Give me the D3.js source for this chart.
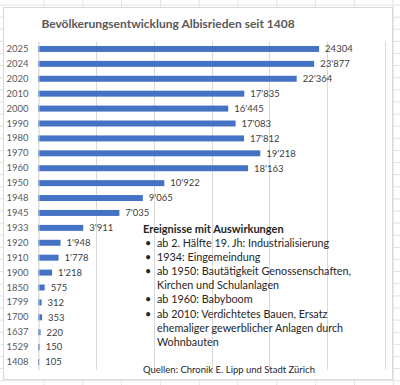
<!DOCTYPE html>
<html>
<head>
<meta charset="utf-8">
<script src="https://cdn.jsdelivr.net/npm/d3@7"></script>
<style>
  body { margin: 0; background: #fff; }
  svg { display: block; font-family: Lato, "Open Sans", sans-serif; }
</style>
</head>
<body>
<div id="chart"></div>
<script>
// data
var years = ["2025", "2024", "2020", "2010", "2000", "1990", "1980", "1970", "1960", "1950", "1948",
             "1945", "1933", "1920", "1910", "1900", "1850", "1799", "1700", "1637", "1529", "1408"];
var population = [24304, 23877, 22364, 17835, 16445, 17083, 17812, 19218, 18163, 10922, 9065,
                  7035, 3911, 1948, 1778, 1218, 575, 312, 353, 220, 150, 105];
var valueLabels = ["24304", "23'877", "22'364", "17'835", "16'445", "17'083", "17'812", "19'218", "18'163", "10'922", "9'065",
                   "7'035", "3'911", "1'948", "1'778", "1'218", "575", "312", "353", "220", "150", "105"];
var gridValues = [5000, 10000, 15000, 20000, 25000, 30000];

var title = "Bevölkerungsentwicklung Albisrieden seit 1408";
var noteTitle = "Ereignisse mit Auswirkungen";
var notes = [
  ["ab 2. Hälfte 19. Jh: Industrialisierung"],
  ["1934: Eingemeindung"],
  ["ab 1950: Bautätigkeit Genossenschaften,", "Kirchen und Schulanlagen"],
  ["ab 1960: Babyboom"],
  ["ab 2010: Verdichtetes Bauen, Ersatz", "ehemaliger gewerblicher Anlagen durch", "Wohnbauten"]
];
var source = "Quellen: Chronik E. Lipp und Stadt Zürich";

var W = 400, H = 385;
var plot = {left: 38, right: 385, top: 41.5, bottom: 369.5};

var svg = d3.select("#chart").append("svg")
    .attr("width", W)
    .attr("height", H);

// spreadsheet grid behind the chart
var cols = d3.range(44, W, 38.8);
var rows = d3.range(5, H, 12.12);
svg.selectAll("line.col").data(cols).enter().append("line")
    .attr("x1", d => d).attr("x2", d => d).attr("y1", 0).attr("y2", H)
    .attr("stroke", "#e2e2e2");
svg.selectAll("line.row").data(rows).enter().append("line")
    .attr("x1", 0).attr("x2", W).attr("y1", d => d).attr("y2", d => d)
    .attr("stroke", "#e2e2e2");

// chart area
svg.append("rect")
    .attr("x", 3.5).attr("y", 7.5)
    .attr("width", 389).attr("height", 372)
    .attr("fill", "#fff")
    .attr("stroke", "#d9d9d9");

svg.append("text")
    .attr("x", 168).attr("y", 28)
    .attr("text-anchor", "middle")
    .attr("font-size", 12)
    .attr("font-weight", "bold")
    .attr("fill", "#595959")
    .text(title);

var x = d3.scaleLinear().domain([0, 30000]).range([plot.left, plot.right]);
var y = d3.scaleBand().domain(years).range([plot.top, plot.bottom]).paddingInner(0.6).paddingOuter(0.3);

// gridlines
svg.selectAll("line.grid").data(gridValues).enter().append("line")
    .attr("x1", d => Math.round(x(d)) + 0.5).attr("x2", d => Math.round(x(d)) + 0.5)
    .attr("y1", plot.top).attr("y2", plot.bottom)
    .attr("stroke", "#d9d9d9");

// bars
svg.selectAll("rect.bar").data(population).enter().append("rect")
    .attr("x", x(0))
    .attr("y", (d, i) => y(years[i]))
    .attr("width", d => x(d) - x(0))
    .attr("height", y.bandwidth())
    .attr("fill", "#4472c4");

// y axis
var yAxis = svg.append("g")
    .attr("transform", "translate(" + (plot.left + 0.5) + ",0)")
    .call(d3.axisLeft(y).tickSize(0).tickPadding(10));
yAxis.select(".domain").attr("stroke", "#d0d0d0");
yAxis.selectAll("text")
    .attr("font-family", "Lato, sans-serif")
    .attr("font-size", 9.5)
    .attr("fill", "#595959");

// value labels
svg.selectAll("text.val").data(population).enter().append("text")
    .attr("x", d => x(d) + 6)
    .attr("y", (d, i) => y(years[i]) + y.bandwidth() / 2)
    .attr("dy", "0.35em")
    .attr("font-size", 9.5)
    .attr("fill", "#404040")
    .text((d, i) => valueLabels[i]);

// annotation text box
var note = svg.append("g").attr("fill", "#262626").attr("font-size", 10.8);
note.append("text")
    .attr("x", 143).attr("y", 233)
    .attr("font-weight", "bold")
    .attr("font-size", 11)
    .text(noteTitle);
var lineY = 247;
notes.forEach(function(item) {
  note.append("text").attr("x", 145).attr("y", lineY).text("•");
  item.forEach(function(t) {
    note.append("text").attr("x", 157).attr("y", lineY).text(t);
    lineY += 14.1;
  });
});
svg.append("text")
    .attr("x", 143).attr("y", 372.5)
    .attr("font-size", 9.5)
    .attr("fill", "#262626")
    .text(source);
</script>
</body>
</html>
